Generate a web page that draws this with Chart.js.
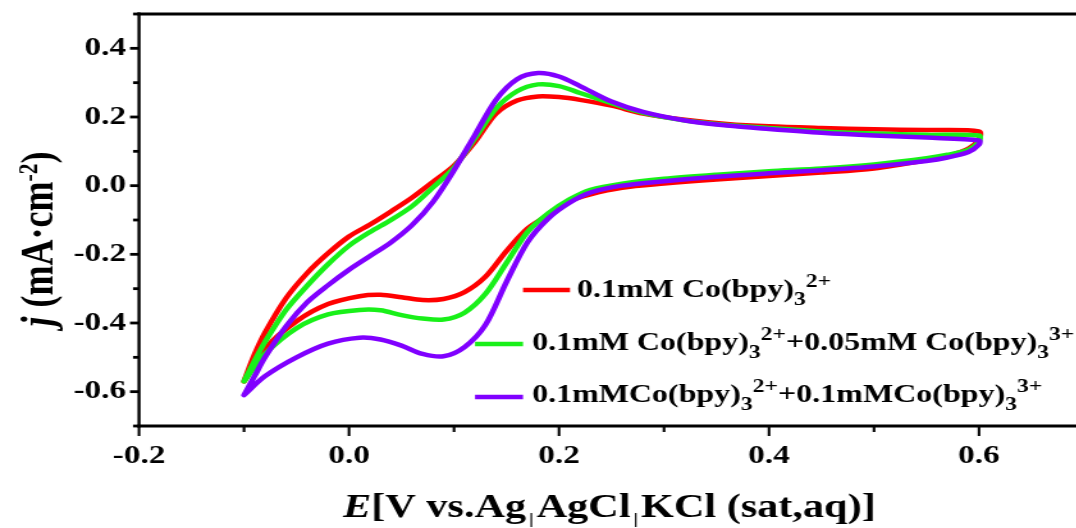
<!DOCTYPE html>
<html>
<head>
<meta charset="utf-8">
<script src="https://cdn.jsdelivr.net/npm/chart.js@4.4.1/dist/chart.umd.min.js"></script>
<style>
  html, body { margin: 0; padding: 0; background: #fff; overflow: hidden; }
  #wrap { width: 1076px; height: 528px; overflow: hidden; position: relative; }
  #stretch { position: absolute; left: 0; top: 0; transform-origin: 0 0; }
</style>
</head>
<body>
<div id="wrap"><div id="stretch"><canvas id="cv" width="860" height="528"></canvas></div></div>
<script>
// potential grid of the scan: -0.1 V -> 0.6 V, then back 0.6 V -> -0.1 V
const scanE = [
  -0.10, -0.09, -0.08, -0.06, -0.04, -0.02, 0.00, 0.02, 0.04, 0.06, 0.08, 0.10, 0.12, 0.14,
  0.16, 0.18, 0.20, 0.22, 0.25, 0.28, 0.32, 0.36, 0.40, 0.45, 0.50, 0.55, 0.60,
  0.60, 0.59, 0.57, 0.55, 0.50, 0.45, 0.40, 0.35, 0.30, 0.26, 0.23, 0.21, 0.19, 0.17,
  0.15, 0.13, 0.11, 0.09, 0.07, 0.05, 0.03, 0.01, -0.02, -0.05, -0.08, -0.10
];

// current density (mA/cm2) for each potential above
const jRed = [
  -0.57, -0.492, -0.428, -0.328, -0.255, -0.197, -0.148, -0.113, -0.075, -0.035, 0.011, 0.058, 0.128, 0.21,
  0.248, 0.26, 0.258, 0.25, 0.233, 0.21, 0.192, 0.18, 0.173, 0.168, 0.164, 0.162, 0.158,
  0.135, 0.108, 0.087, 0.074, 0.05, 0.038, 0.028, 0.018, 0.006, -0.006, -0.025, -0.045, -0.085, -0.125,
  -0.19, -0.265, -0.31, -0.33, -0.333, -0.325, -0.318, -0.322, -0.345, -0.395, -0.475, -0.57
];
const jGreen = [
  -0.57, -0.51, -0.455, -0.362, -0.292, -0.229, -0.175, -0.135, -0.10, -0.06, -0.005, 0.052, 0.138, 0.225,
  0.275, 0.295, 0.29, 0.27, 0.24, 0.212, 0.19, 0.177, 0.168, 0.158, 0.152, 0.148, 0.146,
  0.128, 0.105, 0.09, 0.08, 0.062, 0.05, 0.042, 0.032, 0.02, 0.006, -0.012, -0.04, -0.08, -0.135,
  -0.225, -0.315, -0.37, -0.39, -0.387, -0.377, -0.363, -0.362, -0.375, -0.415, -0.49, -0.57
];
const jPurple = [
  -0.61, -0.555, -0.50, -0.41, -0.34, -0.29, -0.245, -0.205, -0.165, -0.115, -0.047, 0.045, 0.148, 0.25,
  0.31, 0.328, 0.318, 0.29, 0.245, 0.215, 0.19, 0.175, 0.165, 0.154, 0.146, 0.14, 0.132,
  0.12, 0.098, 0.082, 0.072, 0.056, 0.045, 0.036, 0.026, 0.013, 0.0, -0.02, -0.05, -0.095, -0.165,
  -0.28, -0.405, -0.47, -0.497, -0.49, -0.466, -0.448, -0.443, -0.46, -0.50, -0.555, -0.61
];

const xTickLabels = ['-0.2', '0.0', '0.2', '0.4', '0.6'];
const yTickLabels = ['-0.6', '-0.4', '-0.2', '0.0', '0.2', '0.4'];

// legend texts, split in normal / subscript / superscript pieces
const legendLabels = [
  [['0.1mM Co(bpy)', 'n'], ['3', 'sub'], ['2+', 'sup']],
  [['0.1mM Co(bpy)', 'n'], ['3', 'sub'], ['2+', 'sup'], ['+0.05mM Co(bpy)', 'n'], ['3', 'sub'], ['3+', 'sup']],
  [['0.1mMCo(bpy)', 'n'], ['3', 'sub'], ['2+', 'sup'], ['+0.1mMCo(bpy)', 'n'], ['3', 'sub'], ['3+', 'sup']]
];
const yTitle = [['j', 'i'], [' (mA\u00b7cm', 'n'], ['-2', 'sup'], [')', 'n']];
const xTitle = [['E', 'i'], ['[V vs.Ag', 'n'], ['|', 'bar'], ['AgCl', 'n'], ['|', 'bar'], ['KCl (sat,aq)]', 'n']];

const colors = ['#ff0000', '#19f019', '#8000ff'];

// the original figure is stretched sideways, so the canvas is drawn narrow and scaled
const STRETCH = 1.28;
const CANVAS_W = 860;
const AREA = { left: 139 / STRETCH, top: 14, right: 1084 / STRETCH, bottom: 426 };
const FONT = '"Liberation Serif", "Times New Roman", serif';

document.getElementById('stretch').style.transform = `scaleX(${STRETCH})`;

const label = v => (Math.round(v * 10) / 10).toFixed(1);

function richFont(st, size, o) {
  if (st === 'sub' || st === 'sup') return `bold ${size * o.script}px ${FONT}`;
  if (st === 'i') return `italic bold ${size}px ${FONT}`;
  return `bold ${size}px ${FONT}`;
}

function richShift(st, size, o) {
  if (st === 'sub') return size * o.drop;
  if (st === 'sup') return -size * o.rise;
  return 0;
}

function richWidth(ctx, parts, size, o) {
  let w = 0;
  parts.forEach(([t, st]) => {
    if (st === 'bar') { w += size * 0.25; return; }
    ctx.font = richFont(st, size, o);
    w += ctx.measureText(t).width;
  });
  return w;
}

function drawRich(ctx, x, y, parts, size, o) {
  ctx.textAlign = 'left';
  ctx.textBaseline = 'alphabetic';
  parts.forEach(([t, st]) => {
    if (st === 'bar') {
      ctx.save();
      ctx.lineWidth = 1.2;
      ctx.beginPath();
      ctx.moveTo(x + size * 0.125, y - size * 0.12);
      ctx.lineTo(x + size * 0.125, y + size * 0.3);
      ctx.stroke();
      ctx.restore();
      x += size * 0.25;
      return;
    }
    ctx.font = richFont(st, size, o);
    ctx.fillText(t, x, y + richShift(st, size, o));
    x += ctx.measureText(t).width;
  });
}

const decorPlugin = {
  id: 'decor',
  afterDraw(chart) {
    const ctx = chart.ctx;
    const a = chart.chartArea;
    const xs = chart.scales.x, ys = chart.scales.y;
    ctx.save();
    ctx.strokeStyle = '#000';
    ctx.fillStyle = '#000';

    // frame: top and bottom lines, left axis
    ctx.lineWidth = 3;
    ctx.beginPath();
    ctx.moveTo(a.left - 1.2, a.top); ctx.lineTo(a.right, a.top);
    ctx.moveTo(a.left - 1.2, a.bottom); ctx.lineTo(a.right, a.bottom);
    ctx.stroke();
    ctx.lineWidth = 2.4;
    ctx.beginPath();
    ctx.moveTo(a.left, a.top - 1.5); ctx.lineTo(a.left, a.bottom + 1.5);
    ctx.stroke();

    // tick marks, long on labelled values
    ctx.lineWidth = 2.1;
    xs.ticks.forEach(t => {
      const px = xs.getPixelForValue(t.value);
      const len = xTickLabels.includes(label(t.value)) ? 10 : 6;
      ctx.beginPath(); ctx.moveTo(px, a.bottom); ctx.lineTo(px, a.bottom + len); ctx.stroke();
    });
    ctx.lineWidth = 2.8;
    ys.ticks.forEach(t => {
      const py = ys.getPixelForValue(t.value);
      const len = (yTickLabels.includes(label(t.value)) ? 9 : 6) / STRETCH;
      ctx.beginPath(); ctx.moveTo(a.left, py); ctx.lineTo(a.left - len, py); ctx.stroke();
    });

    // legend
    const legendOpts = { script: 0.74, drop: 0.3, rise: 0.4 };
    const legendPos = [
      { x1: 523, x2: 570, ly: 290, tx: 577, ty: 297 },
      { x1: 475, x2: 523, ly: 344, tx: 532, ty: 350 },
      { x1: 475, x2: 523, ly: 397, tx: 532, ty: 402 }
    ];
    legendLabels.forEach((parts, i) => {
      const p = legendPos[i];
      ctx.strokeStyle = colors[i];
      ctx.lineWidth = 4.5;
      ctx.beginPath();
      ctx.moveTo(p.x1 / STRETCH, p.ly); ctx.lineTo(p.x2 / STRETCH, p.ly);
      ctx.stroke();
      ctx.strokeStyle = '#000';
      drawRich(ctx, p.tx / STRETCH, p.ty, parts, 25, legendOpts);
    });

    // axis titles
    drawRich(ctx, 343 / STRETCH, 517, xTitle, 33, legendOpts);
    const yOpts = { script: 0.6, drop: 0.3, rise: 0.34 };
    const yw = richWidth(ctx, yTitle, 36, yOpts);
    ctx.translate(53 / STRETCH, 239);
    ctx.rotate(-Math.PI / 2);
    drawRich(ctx, -yw / 2, 0, yTitle, 36, yOpts);
    ctx.restore();
  }
};

const tickFont = { family: FONT, size: 26, weight: 'bold' };

new Chart(document.getElementById('cv'), {
  type: 'scatter',
  data: {
    datasets: [
      { label: '0.1mM Co(bpy)3 2+', data: scanE.map((e, i) => ({ x: e, y: jRed[i] })), borderColor: colors[0], order: 2 },
      { label: '0.1mM Co(bpy)3 2+ +0.05mM Co(bpy)3 3+', data: scanE.map((e, i) => ({ x: e, y: jGreen[i] })), borderColor: colors[1], order: 1 },
      { label: '0.1mMCo(bpy)3 2+ +0.1mMCo(bpy)3 3+', data: scanE.map((e, i) => ({ x: e, y: jPurple[i] })), borderColor: colors[2], order: 0 }
    ].map(d => Object.assign(d, {
      showLine: true, pointRadius: 0, borderWidth: 4.5, tension: 0.3,
      borderCapStyle: 'round', borderJoinStyle: 'round', fill: false
    }))
  },
  options: {
    responsive: false,
    animation: false,
    devicePixelRatio: 1,
    events: [],
    layout: { padding: { top: AREA.top, right: CANVAS_W - AREA.right, left: 0, bottom: 0 } },
    plugins: { legend: { display: false }, tooltip: { enabled: false } },
    scales: {
      x: {
        type: 'linear', min: -0.2, max: 0.7,
        grid: { display: false, drawTicks: false },
        border: { display: false },
        ticks: {
          stepSize: 0.1, autoSkip: false, maxRotation: 0, padding: 15, color: '#000', font: tickFont,
          callback: v => xTickLabels.includes(label(v)) ? label(v) : ''
        },
        afterFit: s => { s.height = 528 - AREA.bottom; s.paddingLeft = 0; s.paddingRight = 0; }
      },
      y: {
        type: 'linear', min: -0.7, max: 0.5,
        grid: { display: false, drawTicks: false },
        border: { display: false },
        ticks: {
          stepSize: 0.1, autoSkip: false, padding: 10, color: '#000', font: tickFont,
          callback: v => yTickLabels.includes(label(v)) ? label(v) : ''
        },
        afterFit: s => { s.width = AREA.left; s.paddingTop = 0; s.paddingBottom = 0; }
      }
    }
  },
  plugins: [decorPlugin]
});
</script>
</body>
</html>
